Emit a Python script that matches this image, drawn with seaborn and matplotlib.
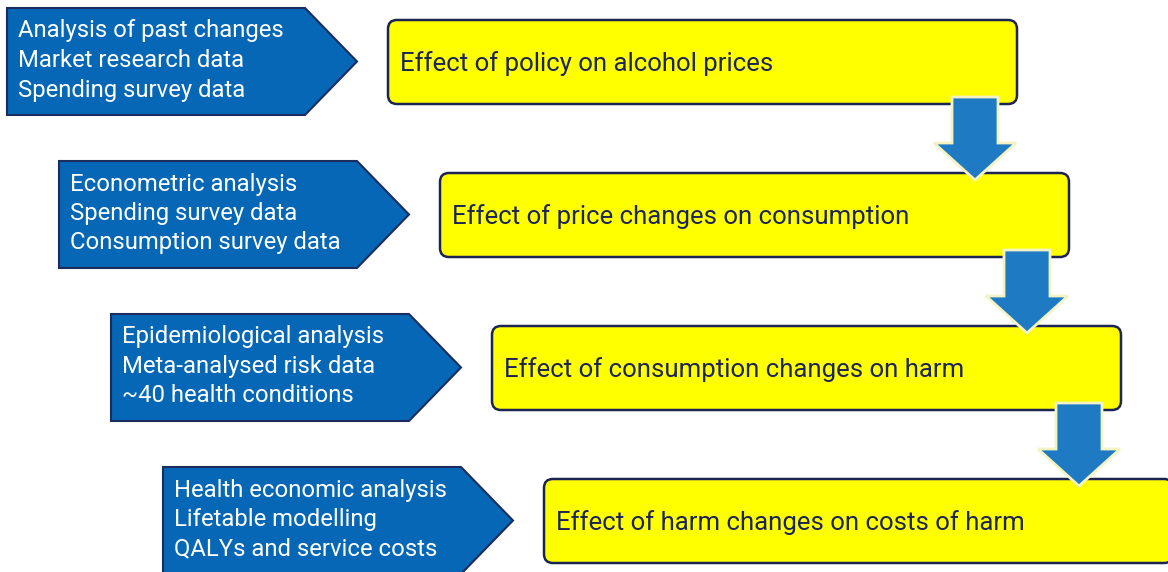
import matplotlib
matplotlib.use("Agg")
import matplotlib.pyplot as plt
from matplotlib.patches import Polygon, FancyBboxPatch
import seaborn as sns

# ---- content ----
method_lines = [
    ["Analysis of past changes", "Market research data", "Spending survey data"],
    ["Econometric analysis", "Spending survey data", "Consumption survey data"],
    ["Epidemiological analysis", "Meta-analysed risk data", "~40 health conditions"],
    ["Health economic analysis", "Lifetable modelling", "QALYs and service costs"],
]
effect_labels = [
    "Effect of policy on alcohol prices",
    "Effect of price changes on consumption",
    "Effect of consumption changes on harm",
    "Effect of harm changes on costs of harm",
]

sns.set_theme(style="white")
plt.rcParams['font.family'] = ['Roboto', 'DejaVu Sans']

BLUE = "#0567b5"
BLUE_EDGE = "#1b2c5e"
YELLOW = "#ffff00"
NAVY = "#1c2452"
ARROW = "#1e7bc3"

W, H = 1168, 572
fig = plt.figure(figsize=(W / 100, H / 100), dpi=100)
ax = fig.add_axes([0, 0, 1, 1])
ax.set_xlim(0, W)
ax.set_ylim(H, 0)
ax.axis("off")

dx, dy = 52.0, 153.0
for i, (lines, label) in enumerate(zip(method_lines, effect_labels)):
    ox, oy = i * dx, i * dy
    # blue pentagon
    left, top, bot = 7 + ox, 8 + oy, 115 + oy
    shoulder, tip = 305 + ox, 357 + ox
    pent = Polygon([(left, top), (shoulder, top), (tip, (top + bot) / 2),
                    (shoulder, bot), (left, bot)], closed=True,
                   facecolor=BLUE, edgecolor=BLUE_EDGE, lw=1.5, zorder=2)
    ax.add_patch(pent)
    for j, t in enumerate(lines):
        ax.text(left + 11, 31 + oy + j * 29.5, t, color="white", fontsize=17.2,
                va="center", ha="left", zorder=3)
    # yellow box
    bx0, by0, bx1, by1 = 388 + ox, 20 + oy, 1017 + ox, 104 + oy
    box = FancyBboxPatch((bx0, by0), bx1 - bx0, by1 - by0,
                         boxstyle="round,pad=0,rounding_size=9",
                         facecolor=YELLOW, edgecolor=NAVY, lw=1.8, zorder=2)
    ax.add_patch(box)
    ax.text(bx0 + 12, (by0 + by1) / 2 + 2, label, color=NAVY, fontsize=18.5,
            va="center", ha="left", zorder=3)
    # down arrow
    if i < len(effect_labels) - 1:
        cx = 975 + ox
        s0, s1 = cx - 23, cx + 23
        ytop, ybase, ytip = 97 + oy, 143 + oy, 180 + oy
        hw = 41
        arr = Polygon([(s0, ytop), (s1, ytop), (s1, ybase), (cx + hw, ybase),
                       (cx, ytip), (cx - hw, ybase), (s0, ybase)], closed=True,
                      facecolor=ARROW, edgecolor="#f3f3c4", lw=2.0, zorder=4)
        ax.add_patch(arr)

fig.savefig("out.png", dpi=100, facecolor="white")
